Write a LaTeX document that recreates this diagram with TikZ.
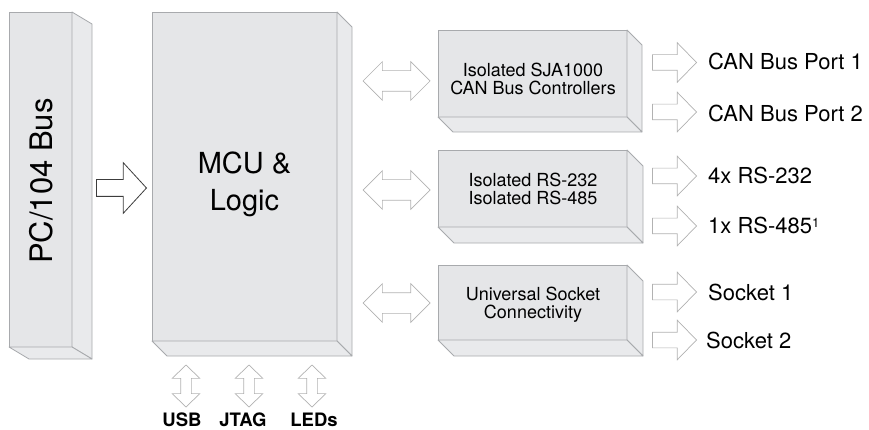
\documentclass[tikz,border=0pt]{standalone}
\usepackage{fontspec}
\setmainfont{TeX Gyre Heros}
\usetikzlibrary{shapes.arrows,calc}
\definecolor{facefill}{RGB}{229,230,232}
\definecolor{sidefill}{RGB}{233,234,236}
\definecolor{edgegray}{RGB}{168,170,173}
\definecolor{arrgray}{RGB}{178,178,178}
\definecolor{arrdark}{RGB}{60,60,60}
\newcommand\boxsides[3]{%
  \draw[side] (#1.north east) -- ++(#2,#3) -- ($(#1.south east)+(#2,#3)$) -- (#1.south east) -- cycle;
  \draw[side] (#1.south west) -- ++(#2,#3) -- ($(#1.south east)+(#2,#3)$) -- (#1.south east) -- cycle;}
\begin{document}
\begin{tikzpicture}[x=1pt,y=-1pt,
  face/.style={rectangle, draw=edgegray, fill=facefill, line width=0.8pt, inner sep=0pt, outer sep=0pt},
  side/.style={draw=edgegray, fill=sidefill, line width=0.8pt, line join=round},
  dblarrow/.style={double arrow, draw=arrgray, fill=white, line width=0.7pt, inner xsep=0pt, inner ysep=10pt,
    double arrow head extend=9pt, minimum height=67pt, double arrow tip angle=90},
  vdblarrow/.style={double arrow, draw=arrgray, fill=white, line width=0.7pt, inner xsep=0pt, inner ysep=5pt,
    double arrow head extend=8.5pt, minimum height=42pt, double arrow tip angle=92, rotate=90},
  outarrow/.style={single arrow, draw=arrgray, fill=white, line width=0.7pt, inner xsep=0pt, inner ysep=7.5pt,
    single arrow head extend=12pt, minimum height=44pt, single arrow tip angle=91.5, anchor=tip},
  pcarrow/.style={single arrow, draw=arrdark, fill=white, line width=0.8pt, inner xsep=0pt, inner ysep=8pt,
    single arrow head extend=17pt, minimum height=50pt, single arrow tip angle=95, anchor=tip},
  boxtext/.style={font=\fontsize{18}{18.5}\selectfont, align=center, inner sep=0pt},
  portlabel/.style={font=\fontsize{22}{26}\selectfont, anchor=base west, inner sep=0pt},
  iolabel/.style={font=\fontsize{18.5}{20}\selectfont\bfseries, anchor=base, inner sep=0pt}
]
\useasboundingbox (0,0) rectangle (869,430);

% PC/104 bus
\node[face, minimum width=63pt, minimum height=335pt] (pc) at (40.5,179.5) {};
\boxsides{pc}{20}{12}
\node[font=\fontsize{31}{36}\selectfont, rotate=90, inner sep=0pt] (pctext) at (41,181) {PC/104 Bus};

% MCU
\node[face, minimum width=185pt, minimum height=329pt] (mcu) at (244.5,176.5) {};
\boxsides{mcu}{15}{15}
\node[font=\fontsize{29}{37}\selectfont, align=center, inner sep=0pt] (mcutext) at (244.5,184) {MCU \&\\Logic};

% peripheral blocks
\node[face, minimum width=189pt, minimum height=87pt] (can) at (532.5,73.5) {};
\boxsides{can}{15}{15}
\node[boxtext] (cantext) at (533,79) {Isolated SJA1000\\CAN Bus Controllers};

\node[face, minimum width=189pt, minimum height=77pt] (rs) at (532.5,188.5) {};
\boxsides{rs}{16}{16}
\node[boxtext] (rstext) at (533,189) {Isolated RS-232\\Isolated RS-485};

\node[face, minimum width=189pt, minimum height=75pt] (sock) at (532.5,302.5) {};
\boxsides{sock}{16}{16}
\node[boxtext] (socktext) at (533,304.5) {Universal Socket\\Connectivity};

% arrows
\node[pcarrow] (pcarr) at (147,188) {};
\node[dblarrow] (canarr) at (396.5,81) {};
\node[dblarrow] (rsarr) at (396.5,190) {};
\node[dblarrow] (sockarr) at (396.5,303) {};

\node[vdblarrow] (usbarr) at (186,386) {};
\node[vdblarrow] (jtagarr) at (249,386) {};
\node[vdblarrow] (ledarr) at (312,386) {};

\node[outarrow] (a1) at (697,62.5) {};
\node[outarrow] (a2) at (697,112) {};
\node[outarrow] (a3) at (697,176) {};
\node[outarrow] (a4) at (697,226) {};
\node[outarrow] (a5) at (697,292) {};
\node[outarrow] (a6) at (697,340) {};

% labels
\node[portlabel] (p1) at (708,70) {CAN Bus Port 1};
\node[portlabel] (p2) at (708,122) {CAN Bus Port 2};
\node[portlabel] (r232) at (708,183.5) {4x RS-232};
\node[portlabel] (r485) at (708,233.5) {1x RS-485\raisebox{6pt}{\fontsize{13}{13}\selectfont 1}};
\node[portlabel] (s1) at (708,300) {Socket 1};
\node[portlabel] (s2) at (706,348) {Socket 2};

\node[iolabel] (usb) at (182,426.5) {USB};
\node[iolabel] (jtag) at (243,426.5) {JTAG};
\node[iolabel] (leds) at (314,426.5) {LEDs};
\end{tikzpicture}
\end{document}
